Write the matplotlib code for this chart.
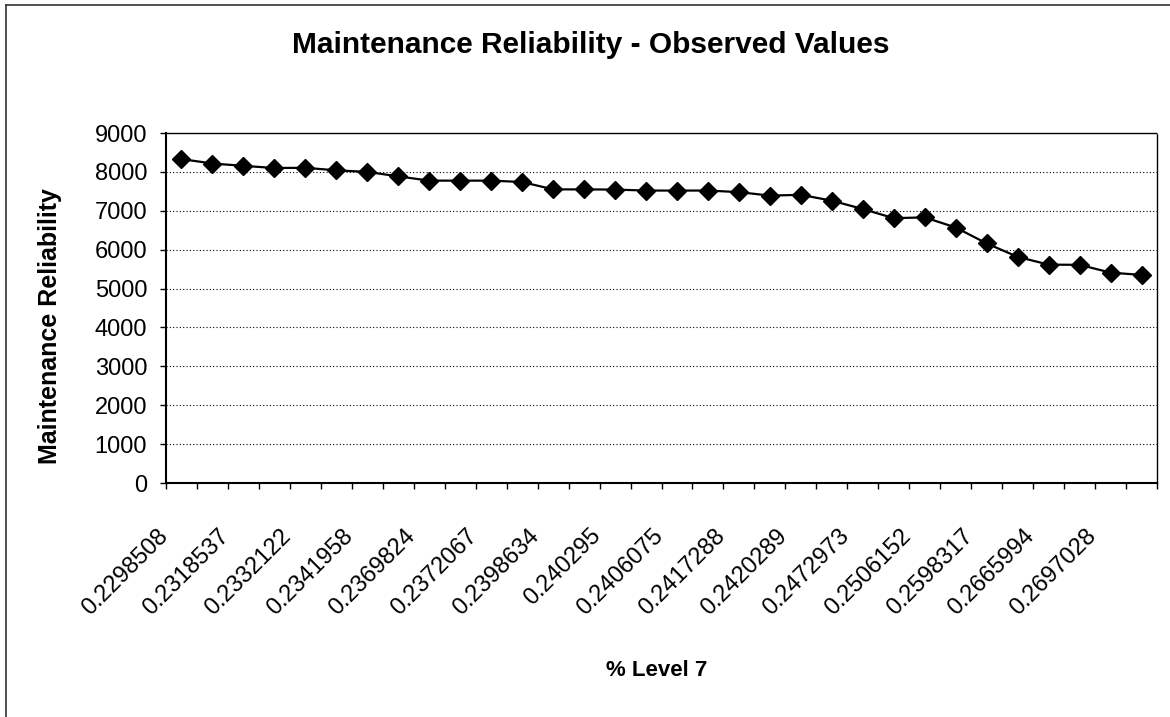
import numpy as np
import matplotlib
matplotlib.use('Agg')
import matplotlib.pyplot as plt
import matplotlib.transforms as mtransforms
from matplotlib.lines import Line2D

plt.rcParams['font.family'] = ['Liberation Sans', 'DejaVu Sans']

# values
reliability = [8330, 8215, 8155, 8100, 8105, 8040, 8000, 7885, 7775, 7775,
               7775, 7740, 7550, 7550, 7545, 7520, 7520, 7520, 7480, 7390,
               7410, 7260, 7045, 6810, 6830, 6570, 6160, 5815, 5615, 5610,
               5410, 5350]
tick_labels = ['0.2298508', '0.2318537', '0.2332122', '0.2341958', '0.2369824',
               '0.2372067', '0.2398634', '0.240295', '0.2406075', '0.2417288',
               '0.2420289', '0.2472973', '0.2506152', '0.2598317', '0.2665994',
               '0.2697028']

x = np.arange(len(reliability))

fig = plt.figure(figsize=(11.7, 7.17), dpi=100)
fig.set_facecolor('white')
ax = fig.add_axes([166 / 1170, 1 - 483 / 717, (1157 - 166) / 1170, (483 - 133) / 717])

ax.plot(x, reliability, color='black', lw=1.6, marker='D', markersize=9.5,
        markerfacecolor='black', markeredgecolor='black', zorder=3)

ax.set_xlim(-0.5, len(reliability) - 0.5)
ax.set_ylim(0, 9000)
ax.set_yticks(np.arange(0, 9001, 1000))
ax.yaxis.grid(True, linestyle=(0, (1, 2)), color='black', lw=0.8)
ax.set_axisbelow(True)

# category boundaries get the tick marks, every other category a label
ax.set_xticks(np.arange(-0.5, len(reliability), 1.0))
ax.set_xticklabels([])
ax.set_xticks(x[::2], minor=True)
ax.set_xticklabels(tick_labels, minor=True, rotation=45, ha='right',
                   rotation_mode='anchor', fontsize=17)
ax.tick_params(axis='x', which='minor', length=0, pad=30)
ax.tick_params(axis='x', which='major', direction='out', length=4.5, width=1)
ax.tick_params(axis='y', direction='out', length=4.5, width=1, pad=9, labelsize=17)
offset = mtransforms.ScaledTranslation(-25 / 100, 0, fig.dpi_scale_trans)
for lab in ax.xaxis.get_minorticklabels():
    lab.set_transform(lab.get_transform() + offset)

for side in ['left', 'bottom']:
    ax.spines[side].set_linewidth(1.5)
for side in ['top', 'right']:
    ax.spines[side].set_linewidth(1.0)
    ax.spines[side].set_linestyle((0, (1, 1)))

fig.text(591 / 1170, 1 - 45 / 717, 'Maintenance Reliability - Observed Values',
         ha='center', va='center', fontsize=21.5, fontweight='bold')
fig.text(50 / 1170, 1 - 326 / 717, 'Maintenance Reliability', rotation=90,
         ha='center', va='center', fontsize=18, fontweight='bold')
fig.text(657 / 1170, 1 - 670 / 717, '% Level 7', ha='center', va='center',
         fontsize=16, fontweight='bold')

# chart area border (left and top edges show in the scan)
fig.add_artist(Line2D([6 / 1170, 1.0], [1 - 5 / 717, 1 - 5 / 717],
                      transform=fig.transFigure, color='#333333', lw=1.2))
fig.add_artist(Line2D([6 / 1170, 6 / 1170], [0.0, 1 - 5 / 717],
                      transform=fig.transFigure, color='#333333', lw=1.2))

plt.savefig('out.png', dpi=100)
